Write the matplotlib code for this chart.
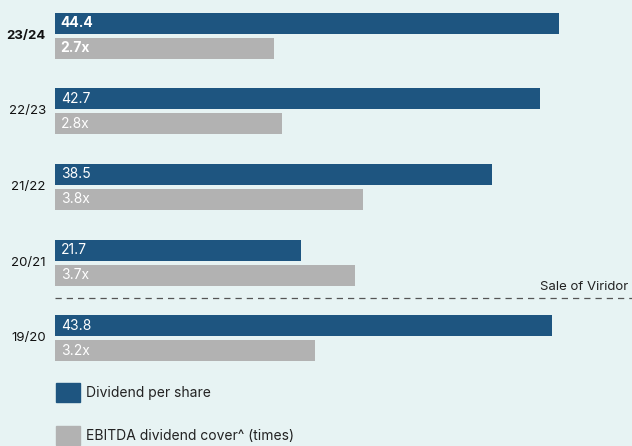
import matplotlib.pyplot as plt
from matplotlib.patches import Patch

plt.rcParams['font.family'] = ['Inter', 'DejaVu Sans']

# Data
years = ['23/24', '22/23', '21/22', '20/21', '19/20']
dividend = [44.4, 42.7, 38.5, 21.7, 43.8]
cover = [2.7, 2.8, 3.8, 3.7, 3.2]
dividend_labels = ['44.4', '42.7', '38.5', '21.7', '43.8']
cover_labels = ['2.7x', '2.8x', '3.8x', '3.7x', '3.2x']

bg = '#e7f3f3'
blue = '#1e5580'
grey = '#b2b2b2'

fig = plt.figure(figsize=(6.32, 4.46), dpi=100, facecolor=bg)
ax = fig.add_axes([55 / 632, 0, 577 / 632, 1])
ax.set_facecolor(bg)
ax2 = ax.twiny()

ypos = list(range(len(years)))
off = 0.165
h = 0.277

ax.barh([y - off for y in ypos], dividend, height=h, color=blue)
ax2.barh([y + off for y in ypos], cover, height=h, color=grey)

ax.set_xlim(0, 50.84)
ax2.set_xlim(0, 7.115)
ax.set_ylim(5.42, -0.469)

for i, y in enumerate(ypos):
    bold = 'bold' if i == 0 else 'normal'
    ax.text(0.5, y - off, dividend_labels[i], color='white', fontsize=10,
            fontweight=bold, va='center', ha='left')
    ax2.text(0.07, y + off, cover_labels[i], color='white', fontsize=10,
             fontweight=bold, va='center', ha='left')
    ax.text(-0.8, y, years[i], color='#111111', fontsize=9.5,
            fontweight=bold, va='center', ha='right')

# Sale of Viridor divider
ax.axhline(3.47, color='#555555', lw=0.9, ls=(0, (5, 4)))
ax.text(50.5, 3.40, 'Sale of Viridor', ha='right', va='bottom',
        fontsize=9.5, color='#222222')

for a in (ax, ax2):
    for s in a.spines.values():
        s.set_visible(False)
    a.set_xticks([])
    a.set_yticks([])

handles = [Patch(color=blue, label='Dividend per share'),
           Patch(color=grey, label='EBITDA dividend cover^ (times)')]
fig.legend(handles=handles, loc='upper left', bbox_to_anchor=(56 / 632, 1 - 383 / 446),
           frameon=False, fontsize=10, handlelength=1.7, handleheight=1.7,
           handletextpad=0.45, labelspacing=1.75, borderpad=0, borderaxespad=0,
           labelcolor='#222222')

fig.savefig('out.png', dpi=100, facecolor=bg)
